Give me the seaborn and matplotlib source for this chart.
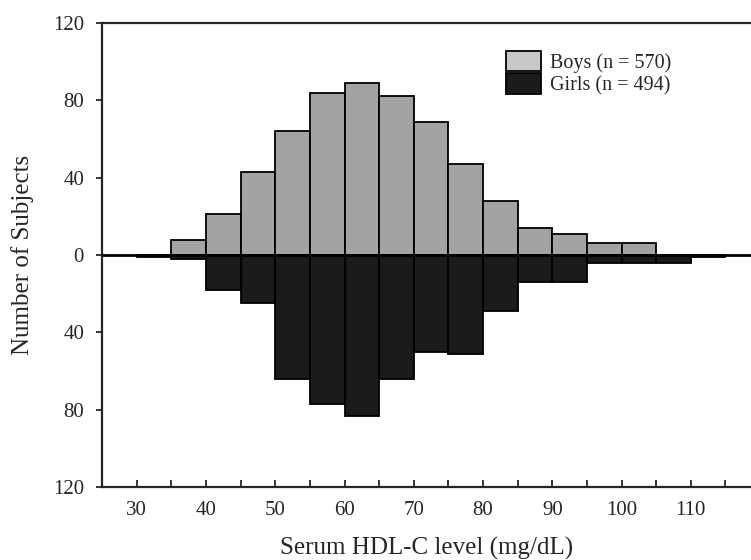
import matplotlib
matplotlib.use("Agg")
import matplotlib.pyplot as plt
import seaborn as sns
import pandas as pd
from matplotlib.patches import Patch

# bin centres (5 mg/dL wide bins)
boys_bins = [37.5, 42.5, 47.5, 52.5, 57.5, 62.5, 67.5, 72.5, 77.5, 82.5, 87.5, 92.5, 97.5, 102.5]
boys_counts = [8, 21, 43, 64, 84, 89, 82, 69, 47, 28, 14, 11, 6, 6]
girls_bins = [32.5, 37.5, 42.5, 47.5, 52.5, 57.5, 62.5, 67.5, 72.5, 77.5, 82.5, 87.5, 92.5,
              97.5, 102.5, 107.5, 112.5]
girls_counts = [1, 2, 18, 25, 64, 77, 83, 64, 50, 51, 29, 14, 14, 4, 4, 4, 1]
x_ticks = [30, 40, 50, 60, 70, 80, 90, 100, 110]
y_ticks = [-120, -80, -40, 0, 40, 80, 120]

sns.set_style("ticks")
plt.rcParams['font.family'] = ['Liberation Serif', 'DejaVu Serif']

boys = pd.DataFrame({'bin': boys_bins, 'n': boys_counts})
girls = pd.DataFrame({'bin': girls_bins, 'n': [-c for c in girls_counts]})

fig = plt.figure(figsize=(7.51, 5.60), dpi=100)
ax = fig.add_axes([0.136, 0.130, 0.864, 0.829])

sns.barplot(data=boys, x='bin', y='n', native_scale=True, width=1.0,
            color='#a3a3a3', saturation=1, edgecolor='black', linewidth=1.3, ax=ax)
sns.barplot(data=girls, x='bin', y='n', native_scale=True, width=1.0,
            color='#1b1b1b', saturation=1, edgecolor='black', linewidth=1.3, ax=ax)

ax.axhline(0, color='black', linewidth=2, zorder=5)

ax.set_xlim(25, 118.7)
ax.set_ylim(-120, 120)
ax.set_xticks(x_ticks)
ax.set_xticks(range(30, 120, 5), minor=True)
ax.set_yticks(y_ticks)
ax.set_yticklabels([str(abs(v)) for v in y_ticks])
ax.tick_params(axis='x', which='both', direction='in', length=5, width=1.3,
               labelsize=15, pad=10)
ax.tick_params(axis='y', direction='out', length=4, width=1.3, labelsize=15, pad=9)

for s in ['top', 'left', 'bottom']:
    ax.spines[s].set_linewidth(1.6)
ax.spines['right'].set_visible(False)

ax.set_xlabel('Serum HDL-C level (mg/dL)', fontsize=18, labelpad=12)
ax.set_ylabel('Number of Subjects', fontsize=18, labelpad=14)

handles = [Patch(facecolor='#c8c8c8', edgecolor='black', linewidth=1.3, label='Boys (n = 570)'),
           Patch(facecolor='#1b1b1b', edgecolor='black', linewidth=1.3, label='Girls (n = 494)')]
ax.legend(handles=handles, loc='upper left', bbox_to_anchor=(0.622, 0.94), frameon=False,
          fontsize=14.5, handlelength=1.75, handleheight=1.2, handletextpad=0.45,
          labelspacing=0.0, borderaxespad=0, borderpad=0)

fig.savefig('out.png', dpi=100)
